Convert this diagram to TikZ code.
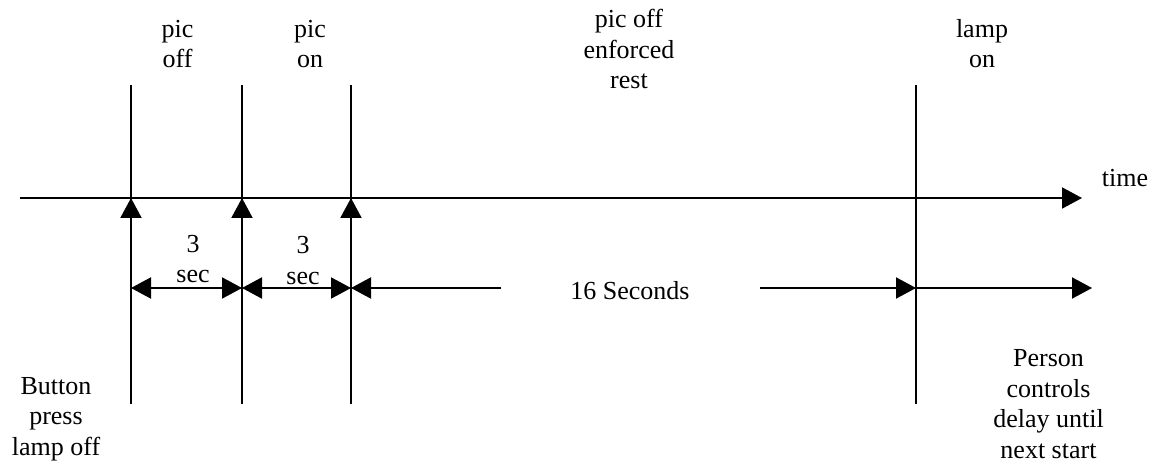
\documentclass[tikz,border=0pt]{standalone}
\usepackage{fontspec}
\setmainfont{Liberation Serif}
\usetikzlibrary{arrows.meta}
\tikzset{
  tip/.tip={Triangle[length=20pt,width=21pt]},
  rule/.style={line width=2pt, black},
  % anchored at the baseline of the last line
  lbl/.style={font=\fontsize{26}{30.5}\selectfont, align=center, inner sep=0pt, anchor=base},
}
\begin{document}
\begin{tikzpicture}[x=1pt, y=-1pt]
\useasboundingbox (0,0) rectangle (1154,465);

% time axis
\coordinate (ax0) at (20,198);
\coordinate (ax1) at (1082,198);
\draw[rule, -{tip}] (ax0) -- (ax1);
\node[lbl] (time) at (1125,187) {time};

% event lines: top, axis crossing, duration row, bottom
\coordinate (atop) at (131,85);  \coordinate (aax) at (131,198);
\coordinate (adur) at (131,288); \coordinate (abot) at (131,404);
\coordinate (btop) at (242,85);  \coordinate (bax) at (242,198);
\coordinate (bdur) at (242,288); \coordinate (bbot) at (242,404);
\coordinate (ctop) at (351,85);  \coordinate (cax) at (351,198);
\coordinate (cdur) at (351,288); \coordinate (cbot) at (351,404);
\coordinate (dtop) at (916,85);
\coordinate (ddur) at (916,288); \coordinate (dbot) at (916,404);

\draw[rule] (atop) -- (abot);
\draw[rule] (btop) -- (bbot);
\draw[rule] (ctop) -- (cbot);
\draw[rule] (dtop) -- (dbot);
\draw[rule, -{tip}] (abot) -- (aax);
\draw[rule, -{tip}] (bbot) -- (bax);
\draw[rule, -{tip}] (cbot) -- (cax);

% durations
\draw[rule, {tip}-{tip}] (adur) -- (bdur);
\draw[rule, {tip}-{tip}] (bdur) -- (cdur);
\node[lbl] (s1) at (193,283) {3\\sec};
\node[lbl] (s2) at (303,284) {3\\sec};

\node[lbl] (rest) at (630,299) {16 Seconds};
\coordinate (restL) at (501,288);
\coordinate (restR) at (760,288);
\draw[rule, -{tip}] (restL) -- (cdur);
\draw[rule, -{tip}] (restR) -- (ddur);
\coordinate (wait) at (1092,288);
\draw[rule, -{tip}] (ddur) -- (wait);

% event labels
\node[lbl] (picoff) at (177.5,68) {pic\\off};
\node[lbl] (picon) at (310,68) {pic\\on};
\node[lbl] (enf) at (629,89) {pic off\\enforced\\rest};
\node[lbl] (lampon) at (982,68) {lamp\\on};
\node[lbl] (button) at (56,455) {Button\\press\\lamp off};
\node[lbl] (person) at (1048.5,458) {Person\\controls\\delay until\\next start};
\end{tikzpicture}
\end{document}
